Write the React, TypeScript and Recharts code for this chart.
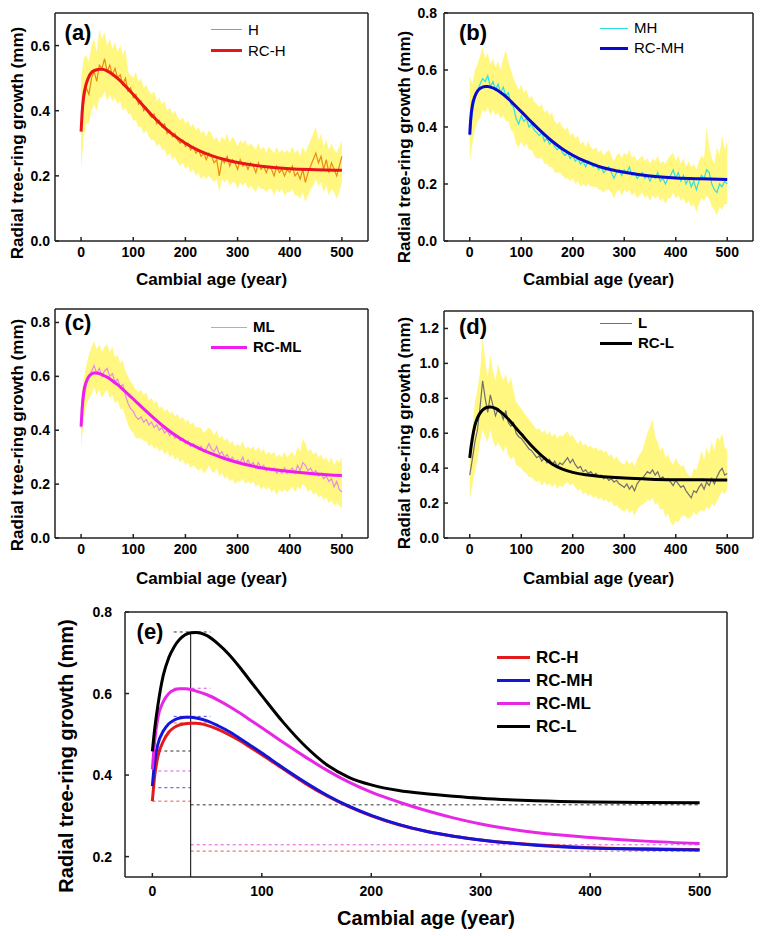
import React from 'react';
import { ComposedChart, Line, Area, XAxis, YAxis, ReferenceLine, Legend } from 'recharts';

// cambial age grid of the mean chronologies (5-year steps)
const AGES = Array.from({ length: 101 }, (_, i) => i * 5);
const X_TICKS = [0, 100, 200, 300, 400, 500];

// (a) H: mean series and its yellow envelope
const H_MEAN = [
  .34, .43, .47, .45, .50, .52, .49, .54, .53, .56,
  .52, .54, .51, .53, .50, .51, .48, .50, .46, .47,
  .44, .45, .42, .43, .40, .41, .39, .38, .39, .36,
  .37, .35, .36, .33, .34, .32, .33, .31, .30, .31,
  .29, .30, .28, .29, .27, .28, .26, .27, .25, .27,
  .26, .24, .25, .20, .25, .24, .26, .23, .25, .24,
  .22, .25, .23, .24, .22, .24, .23, .21, .24, .22,
  .23, .21, .23, .22, .20, .23, .21, .22, .20, .22,
  .21, .23, .20, .21, .19, .22, .18, .21, .23, .25,
  .27, .24, .26, .22, .25, .21, .24, .22, .20, .23,
  .26,
];
const H_HI = [
  .50, .56, .57, .55, .60, .62, .58, .65, .62, .64,
  .60, .62, .59, .61, .58, .60, .57, .59, .52, .51,
  .50, .52, .49, .50, .47, .48, .46, .45, .46, .43,
  .44, .42, .43, .40, .41, .39, .40, .38, .37, .38,
  .36, .37, .35, .36, .34, .35, .33, .34, .32, .34,
  .33, .31, .32, .30, .32, .31, .33, .30, .32, .31,
  .29, .31, .30, .31, .29, .30, .29, .28, .30, .28,
  .29, .27, .29, .28, .27, .29, .27, .28, .27, .28,
  .27, .29, .27, .28, .26, .29, .27, .29, .31, .33,
  .35, .31, .33, .29, .31, .28, .30, .28, .27, .29,
  .31,
];
const H_LO = [
  .22, .32, .36, .36, .40, .42, .40, .44, .44, .46,
  .43, .45, .43, .44, .42, .43, .40, .41, .39, .39,
  .37, .37, .35, .35, .33, .34, .32, .31, .31, .29,
  .30, .28, .28, .26, .27, .25, .26, .24, .23, .24,
  .22, .23, .21, .22, .20, .21, .19, .20, .19, .20,
  .19, .18, .19, .15, .19, .18, .19, .17, .18, .18,
  .16, .18, .17, .18, .16, .17, .16, .15, .17, .16,
  .16, .15, .16, .16, .14, .16, .15, .16, .14, .15,
  .15, .16, .14, .14, .13, .15, .12, .14, .16, .17,
  .19, .17, .18, .15, .17, .14, .16, .15, .13, .15,
  .18,
];

// (b) MH
const MH_MEAN = [
  .37, .45, .50, .53, .55, .57, .56, .58, .54, .56,
  .53, .55, .52, .54, .51, .52, .48, .47, .43, .41,
  .44, .42, .43, .40, .41, .39, .38, .37, .38, .35,
  .36, .34, .35, .33, .32, .33, .31, .30, .31, .29,
  .30, .28, .29, .27, .28, .26, .28, .27, .26, .27,
  .25, .26, .24, .25, .26, .24, .22, .24, .25, .23,
  .25, .24, .26, .23, .24, .22, .23, .24, .22, .23,
  .21, .23, .22, .24, .21, .22, .20, .22, .23, .25,
  .22, .24, .21, .23, .20, .22, .19, .21, .18, .21,
  .23, .22, .25, .24, .20, .18, .17, .20, .19, .21,
  .20,
];
const MH_HI = [
  .58, .55, .60, .62, .65, .68, .64, .66, .62, .64,
  .61, .63, .60, .64, .67, .63, .60, .57, .55, .53,
  .55, .52, .53, .50, .51, .49, .48, .47, .48, .45,
  .46, .44, .45, .42, .41, .42, .40, .39, .40, .37,
  .38, .36, .37, .34, .35, .33, .35, .33, .32, .33,
  .31, .32, .30, .31, .32, .30, .28, .30, .31, .29,
  .31, .30, .32, .29, .30, .28, .29, .30, .28, .29,
  .27, .29, .28, .30, .27, .28, .27, .29, .30, .31,
  .28, .30, .27, .29, .26, .28, .26, .27, .25, .28,
  .30, .29, .40, .33, .29, .27, .33, .30, .37, .32,
  .35,
];
const MH_LO = [
  .28, .34, .39, .42, .43, .46, .45, .47, .44, .46,
  .44, .45, .43, .44, .42, .42, .39, .38, .34, .33,
  .35, .33, .34, .32, .32, .30, .29, .29, .29, .27,
  .27, .26, .26, .24, .24, .24, .23, .22, .22, .21,
  .22, .20, .21, .19, .20, .19, .20, .19, .19, .19,
  .18, .18, .17, .18, .18, .17, .15, .17, .18, .16,
  .18, .17, .18, .16, .17, .15, .16, .17, .15, .16,
  .14, .16, .15, .16, .14, .15, .13, .15, .15, .17,
  .15, .16, .14, .15, .13, .14, .12, .13, .10, .13,
  .15, .14, .16, .15, .12, .11, .09, .12, .11, .13,
  .13,
];

// (c) ML
const ML_MEAN = [
  .41, .52, .57, .60, .62, .64, .61, .63, .60, .62,
  .63, .60, .61, .58, .59, .56, .57, .53, .50, .48,
  .47, .45, .44, .45, .43, .44, .42, .43, .41, .42,
  .40, .41, .39, .40, .38, .39, .37, .38, .36, .37,
  .35, .36, .34, .35, .34, .33, .34, .32, .33, .35,
  .33, .32, .34, .31, .32, .30, .31, .29, .30, .28,
  .29, .28, .30, .27, .29, .27, .28, .26, .28, .26,
  .27, .25, .26, .25, .26, .24, .25, .24, .26, .24,
  .25, .26, .24, .27, .25, .28, .27, .25, .26, .24,
  .25, .23, .24, .22, .23, .21, .22, .19, .21, .18,
  .17,
];
const ML_HI = [
  .52, .59, .64, .68, .71, .73, .70, .72, .69, .71,
  .72, .69, .71, .67, .68, .65, .66, .62, .60, .58,
  .57, .55, .54, .55, .53, .54, .51, .52, .50, .51,
  .48, .49, .47, .48, .46, .47, .45, .46, .44, .45,
  .43, .44, .42, .43, .41, .41, .41, .39, .40, .41,
  .40, .38, .40, .37, .38, .36, .37, .35, .36, .34,
  .35, .34, .36, .33, .34, .33, .34, .32, .34, .32,
  .33, .31, .32, .31, .32, .30, .31, .30, .32, .30,
  .31, .32, .30, .34, .32, .37, .35, .32, .33, .31,
  .32, .30, .31, .29, .30, .28, .30, .27, .29, .28,
  .30,
];
const ML_LO = [
  .33, .44, .49, .52, .53, .56, .53, .55, .52, .54,
  .55, .52, .53, .50, .51, .48, .48, .45, .42, .40,
  .39, .37, .37, .37, .36, .36, .34, .35, .33, .34,
  .32, .33, .31, .32, .30, .31, .29, .30, .28, .29,
  .27, .28, .26, .27, .26, .25, .26, .24, .25, .27,
  .25, .24, .26, .23, .24, .22, .23, .21, .22, .20,
  .21, .21, .22, .20, .21, .20, .21, .19, .20, .18,
  .19, .18, .19, .17, .18, .16, .18, .17, .18, .17,
  .18, .19, .17, .19, .18, .20, .19, .17, .18, .16,
  .17, .15, .16, .14, .15, .13, .14, .12, .13, .12,
  .11,
];

// (d) L
const L_MEAN = [
  .36, .45, .55, .62, .75, .90, .80, .72, .82, .76,
  .70, .74, .72, .68, .73, .66, .64, .66, .60, .58,
  .57, .55, .53, .51, .50, .48, .46, .47, .44, .46,
  .43, .45, .42, .44, .41, .43, .42, .44, .46, .43,
  .45, .42, .40, .41, .38, .39, .37, .38, .36, .37,
  .35, .36, .34, .35, .33, .34, .32, .33, .31, .30,
  .29, .31, .28, .30, .27, .31, .33, .34, .36, .38,
  .37, .39, .36, .38, .34, .35, .33, .34, .32, .30,
  .33, .31, .29, .30, .27, .25, .23, .27, .26, .29,
  .31, .28, .32, .30, .34, .31, .35, .38, .40, .36,
  .37,
];
const L_HI = [
  .50, .62, .78, .85, .95, 1.15, 1.02, .92, 1.05, .96,
  .90, 1.00, .94, .90, .94, .88, .92, .84, .78, .76,
  .74, .72, .70, .68, .66, .64, .62, .63, .60, .62,
  .59, .61, .58, .60, .57, .59, .58, .60, .61, .58,
  .59, .56, .54, .56, .53, .54, .52, .53, .51, .52,
  .50, .51, .49, .50, .47, .48, .45, .47, .44, .43,
  .42, .45, .42, .44, .41, .45, .48, .50, .55, .60,
  .64, .68, .58, .55, .50, .52, .46, .48, .44, .42,
  .46, .43, .41, .42, .38, .36, .35, .40, .39, .44,
  .50, .45, .52, .48, .55, .50, .58, .56, .60, .52,
  .50,
];
const L_LO = [
  .22, .30, .38, .45, .55, .62, .58, .55, .62, .56,
  .52, .55, .52, .49, .53, .47, .45, .47, .42, .41,
  .40, .38, .37, .35, .35, .33, .32, .33, .30, .32,
  .30, .31, .29, .31, .28, .30, .29, .31, .32, .30,
  .31, .29, .27, .28, .25, .26, .24, .25, .23, .24,
  .22, .23, .21, .22, .20, .21, .18, .19, .17, .16,
  .15, .17, .14, .16, .13, .16, .18, .19, .20, .22,
  .21, .23, .19, .20, .16, .17, .12, .14, .09, .07,
  .10, .09, .12, .13, .12, .11, .12, .15, .13, .15,
  .16, .15, .18, .16, .20, .18, .21, .24, .27, .25,
  .28,
];

// regional curves (RC)
const RC_AGES = [0, 2, 5, 10, 15, 20, 25, 30, 35, 40, 50, 60, 70, 80, 90, 100, 120, 140, 160, 180, 200, 225, 250, 275, 300, 350, 400, 450, 500];
const RC_H = [0.336, 0.395, 0.445, 0.483, 0.505, 0.517, 0.523, 0.526, 0.527, 0.527, 0.522, 0.512, 0.499, 0.484, 0.467, 0.450, 0.414, 0.379, 0.348, 0.322, 0.300, 0.278, 0.262, 0.250, 0.241, 0.229, 0.222, 0.219, 0.217];
const RC_MH = [0.373, 0.430, 0.475, 0.508, 0.526, 0.535, 0.540, 0.542, 0.542, 0.540, 0.533, 0.521, 0.507, 0.490, 0.472, 0.454, 0.417, 0.382, 0.350, 0.323, 0.301, 0.279, 0.262, 0.250, 0.241, 0.228, 0.221, 0.218, 0.216];
const RC_ML = [0.414, 0.480, 0.540, 0.580, 0.600, 0.609, 0.612, 0.612, 0.610, 0.606, 0.597, 0.584, 0.569, 0.552, 0.534, 0.516, 0.479, 0.444, 0.411, 0.382, 0.358, 0.334, 0.313, 0.295, 0.280, 0.259, 0.247, 0.238, 0.232];
const RC_L = [0.458, 0.510, 0.570, 0.645, 0.688, 0.715, 0.733, 0.744, 0.749, 0.750, 0.742, 0.722, 0.696, 0.664, 0.629, 0.595, 0.528, 0.470, 0.424, 0.394, 0.376, 0.362, 0.354, 0.348, 0.343, 0.337, 0.334, 0.333, 0.332];

// guide lines of panel (e): start, peak and asymptote levels (H, MH, ML, L)
const START_Y = [0.336, 0.369, 0.410, 0.459];
const PEAK_Y = [0.528, 0.544, 0.613, 0.751];
const ASYM_Y = [0.2135, null, 0.229, 0.327];
const PEAK_AGE = 35;

const FONT = '"Liberation Sans", Arial, Helvetica, sans-serif';
const AXIS_COLOR = '#222';
const AXIS_LINE = { stroke: AXIS_COLOR, strokeWidth: 1.5 };
const TICK = { fontSize: 14, fontWeight: 700, fill: '#000', fontFamily: FONT };
const BAND = '#fff77f';

const xTitle = (x: number, y: number, size: number) => (
  <text x={x} y={y} textAnchor="middle" fontFamily={FONT} fontWeight={700} fontSize={size} fill="#000">
    Cambial age (year)
  </text>
);

const yTitle = (x: number, y: number, size: number) => (
  <text x={x} y={y} transform={`rotate(-90 ${x} ${y})`} textAnchor="middle" dominantBaseline="central"
    fontFamily={FONT} fontWeight={700} fontSize={size} fill="#000">
    Radial tree-ring growth (mm)
  </text>
);

interface LegendItem { label: string; color: string; width: number }

const LegendBox = ({ items, lineLen, rowH, size, bold }: { items: LegendItem[]; lineLen: number; rowH: number; size: number; bold: boolean }) => (
  <div style={{ fontFamily: FONT, fontSize: size, fontWeight: bold ? 700 : 400, color: '#000' }}>
    {items.map((it) => (
      <div key={it.label} style={{ display: 'flex', alignItems: 'center', height: rowH, lineHeight: `${rowH}px` }}>
        <div style={{ width: lineLen, height: 0, borderTop: `${it.width}px solid ${it.color}`, marginRight: 6 }} />
        <span>{it.label}</span>
      </div>
    ))}
  </div>
);

const PANELS = [
  {
    key: 'a', left: 0, top: 0, width: 380, height: 290, plotTop: 13, right: 12, yWidth: 55, xHeight: 49,
    yMax: 0.7, yTicks: [0, 0.2, 0.4, 0.6], yTickMargin: 9,
    mean: H_MEAN, lo: H_LO, hi: H_HI, rc: RC_H, name: 'H', lineColor: '#e88c12', rcColor: '#e8141a',
    yT: [17.5, 143], xT: [211.5, 285], leg: { left: 211, top: 18.5, line: 31, rowH: 21, bold: false },
  },
  {
    key: 'b', left: 380, top: 0, width: 382, height: 290, plotTop: 13, right: 9, yWidth: 64, xHeight: 49,
    yMax: 0.8, yTicks: [0, 0.2, 0.4, 0.6, 0.8], yTickMargin: 11,
    mean: MH_MEAN, lo: MH_LO, hi: MH_HI, rc: RC_MH, name: 'MH', lineColor: '#2ee0e4', rcColor: '#0a0acf',
    yT: [24, 147], xT: [218.5, 285], leg: { left: 220, top: 18, line: 28, rowH: 20, bold: false },
  },
  {
    key: 'c', left: 0, top: 290, width: 380, height: 300, plotTop: 19, right: 12, yWidth: 55, xHeight: 52,
    yMax: 0.85, yTicks: [0, 0.2, 0.4, 0.6, 0.8], yTickMargin: 9,
    mean: ML_MEAN, lo: ML_LO, hi: ML_HI, rc: RC_ML, name: 'ML', lineColor: '#e68ce6', rcColor: '#ee1eee',
    yT: [17, 145], xT: [211.5, 294], leg: { left: 211, top: 27, line: 36, rowH: 20, bold: true },
  },
  {
    key: 'd', left: 380, top: 290, width: 382, height: 300, plotTop: 21, right: 9, yWidth: 64, xHeight: 52,
    yMax: 1.3, yTicks: [0, 0.2, 0.4, 0.6, 0.8, 1.0, 1.2], yTickMargin: 9,
    mean: L_MEAN, lo: L_LO, hi: L_HI, rc: RC_L, name: 'L', lineColor: '#707070', rcColor: '#000000',
    yT: [24, 143], xT: [218.5, 294], leg: { left: 220, top: 23, line: 32, rowH: 20, bold: true },
  },
];

const LETTERS = [
  { text: '(a)', x: 78, y: 33 },
  { text: '(b)', x: 473, y: 33 },
  { text: '(c)', x: 78, y: 323 },
  { text: '(d)', x: 473, y: 327 },
  { text: '(e)', x: 150, y: 632 },
];

function SmallPanel({ p }: { p: typeof PANELS[number] }) {
  const rows = AGES.map((age, i) => ({ age, mean: p.mean[i], band: [p.lo[i], p.hi[i]] }));
  const rcRows = RC_AGES.map((age, i) => ({ age, rc: p.rc[i] }));
  const items = [
    { label: p.name, color: p.lineColor, width: 1.5 },
    { label: 'RC-' + p.name, color: p.rcColor, width: 3 },
  ];
  return (
    <div style={{ position: 'absolute', left: p.left, top: p.top }}>
      <ComposedChart width={p.width} height={p.height} data={rows} margin={{ top: p.plotTop, right: p.right, bottom: 0, left: 0 }}>
        <XAxis dataKey="age" type="number" domain={[-50, 550]} allowDataOverflow ticks={X_TICKS} interval={0}
          height={p.xHeight} tickSize={-4} tickMargin={10} tick={TICK} axisLine={AXIS_LINE} tickLine={AXIS_LINE}
          label={{ content: () => xTitle(p.xT[0], p.xT[1], 17) }} />
        <YAxis type="number" domain={[0, p.yMax]} allowDataOverflow ticks={p.yTicks} interval={0} width={p.yWidth}
          tickSize={-4} tickMargin={p.yTickMargin} tick={TICK} tickFormatter={(v: number) => v.toFixed(1)}
          axisLine={AXIS_LINE} tickLine={AXIS_LINE}
          label={{ content: () => yTitle(p.yT[0], p.yT[1], 17) }} />
        <Area dataKey="band" type="linear" stroke="none" fill={BAND} fillOpacity={1} dot={false} activeDot={false}
          isAnimationActive={false} legendType="none" />
        <Line dataKey="mean" type="linear" stroke={p.lineColor} strokeWidth={1.2} dot={false} activeDot={false}
          isAnimationActive={false} />
        <Line data={rcRows} dataKey="rc" type="monotone" stroke={p.rcColor} strokeWidth={3} dot={false} activeDot={false}
          isAnimationActive={false} />
        <ReferenceLine y={p.yMax} stroke={AXIS_COLOR} strokeWidth={1.5} />
        <ReferenceLine x={550} stroke={AXIS_COLOR} strokeWidth={1.5} />
        <Legend layout="vertical" align="center" verticalAlign="middle"
          wrapperStyle={{ left: p.leg.left, top: p.leg.top, width: 110 }}
          content={() => <LegendBox items={items} lineLen={p.leg.line} rowH={p.leg.rowH} size={15} bold={p.leg.bold} />} />
      </ComposedChart>
    </div>
  );
}

const E_SERIES = [
  { name: 'RC-H', values: RC_H, color: '#e3191c', dash: '#e55555' },
  { name: 'RC-MH', values: RC_MH, color: '#1515d8', dash: '#4a4ae0' },
  { name: 'RC-ML', values: RC_ML, color: '#e628e6', dash: '#e050e0' },
  { name: 'RC-L', values: RC_L, color: '#000000', dash: '#333333' },
];

function PanelE() {
  return (
    <div style={{ position: 'absolute', left: 0, top: 590 }}>
      <ComposedChart width={762} height={346} margin={{ top: 22, right: 35, bottom: 0, left: 0 }}>
        <XAxis dataKey="age" type="number" domain={[-25, 525]} allowDataOverflow ticks={X_TICKS} interval={0}
          height={59} tickSize={-4} tickMargin={13} tick={TICK} axisLine={AXIS_LINE} tickLine={AXIS_LINE}
          label={{ content: () => xTitle(426, 335, 20) }} />
        <YAxis type="number" domain={[0.15, 0.8]} allowDataOverflow ticks={[0.2, 0.4, 0.6, 0.8]} interval={0} width={125}
          tickSize={-4} tickMargin={17} tick={TICK} tickFormatter={(v: number) => v.toFixed(1)}
          axisLine={AXIS_LINE} tickLine={AXIS_LINE}
          label={{ content: () => yTitle(66, 166, 20) }} />
        {E_SERIES.map((s, i) => (
          <ReferenceLine key={'s' + s.name} segment={[{ x: 0, y: START_Y[i] }, { x: PEAK_AGE, y: START_Y[i] }]}
            stroke={s.dash} strokeWidth={1} strokeDasharray="3 3" />
        ))}
        {E_SERIES.map((s, i) => (
          <ReferenceLine key={'p' + s.name} segment={[{ x: 19.5, y: PEAK_Y[i] }, { x: 53, y: PEAK_Y[i] }]}
            stroke={s.dash} strokeWidth={1} strokeDasharray="3 3" />
        ))}
        {E_SERIES.map((s, i) => ASYM_Y[i] == null ? null : (
          <ReferenceLine key={'a' + s.name} segment={[{ x: PEAK_AGE, y: ASYM_Y[i] as number }, { x: 500, y: ASYM_Y[i] as number }]}
            stroke={s.dash} strokeWidth={1} strokeDasharray="3 3" />
        ))}
        <ReferenceLine segment={[{ x: PEAK_AGE, y: 0.15 }, { x: PEAK_AGE, y: PEAK_Y[3] }]} stroke="#000" strokeWidth={1} />
        {E_SERIES.map((s) => (
          <Line key={s.name} data={RC_AGES.map((age, i) => ({ age, v: s.values[i] }))} dataKey="v" name={s.name}
            type="monotone" stroke={s.color} strokeWidth={3} dot={false} activeDot={false} isAnimationActive={false} />
        ))}
        <ReferenceLine y={0.8} stroke={AXIS_COLOR} strokeWidth={1.5} />
        <ReferenceLine x={525} stroke={AXIS_COLOR} strokeWidth={1.5} />
        <Legend layout="vertical" align="center" verticalAlign="middle"
          wrapperStyle={{ left: 497, top: 55.5, width: 120 }}
          content={() => (
            <LegendBox items={E_SERIES.map((s) => ({ label: s.name, color: s.color, width: 3 }))}
              lineLen={33} rowH={23} size={17} bold />
          )} />
      </ComposedChart>
    </div>
  );
}

export default function App() {
  return (
    <div style={{ position: 'absolute', left: 0, top: 0, width: 762, height: 936, background: '#fff', overflow: 'hidden' }}>
      {PANELS.map((p) => <SmallPanel key={p.key} p={p} />)}
      <PanelE />
      {LETTERS.map((l) => (
        <div key={l.text} style={{
          position: 'absolute', left: l.x, top: l.y, transform: 'translate(-50%, -50%)',
          fontFamily: FONT, fontWeight: 700, fontSize: 22, lineHeight: 1, color: '#000',
        }}>{l.text}</div>
      ))}
    </div>
  );
}
